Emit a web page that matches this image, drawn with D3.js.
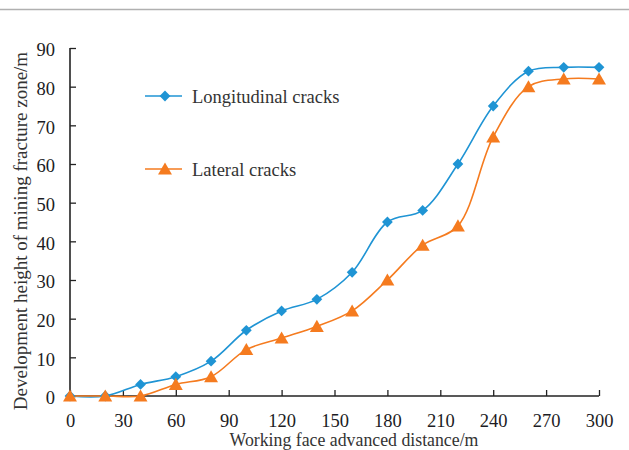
<!DOCTYPE html>
<html><head><meta charset="utf-8">
<script src="https://cdn.jsdelivr.net/npm/d3@7"></script>
<style>body{margin:0;background:#fff;} svg{display:block;}</style>
</head><body>
<svg id="c" width="629" height="450"></svg>
<script>
const distances = [0,20,40,60,80,100,120,140,160,180,200,220,240,260,280,300];
const longitudinal = [0,0,3,5,9,17,22,25,32,45,48,60,75,84,85,85];
const lateral = [0,0,0,3,5,12,15,18,22,30,39,44,67,80,82,82];
const xTicks = [0,30,60,90,120,150,180,210,240,270,300];
const yTicks = [0,10,20,30,40,50,60,70,80,90];
const seriesNames = ["Longitudinal cracks","Lateral cracks"];
const colors = ["#1f94d4","#f57b1f"];

const svg = d3.select("#c");
const font = "'Liberation Serif','Times New Roman',serif";
svg.append("line").attr("x1",0).attr("x2",629).attr("y1",9.5).attr("y2",9.5).attr("stroke","#b0b0b0").attr("stroke-width",1.5);

const x = d3.scaleLinear().domain([0,300]).range([70,599]);
const y = d3.scaleLinear().domain([0,90]).range([396,48]);

const xAxis = svg.append("g").attr("transform","translate(0,396)")
  .call(d3.axisBottom(x).tickValues(xTicks).tickSizeInner(-6).tickSizeOuter(0).tickPadding(18));
const yAxis = svg.append("g").attr("transform","translate(70,0)")
  .call(d3.axisLeft(y).tickValues(yTicks).tickSizeInner(-6).tickSizeOuter(0).tickPadding(15));
[xAxis,yAxis].forEach(g=>{
  g.select(".domain").attr("stroke","#222").attr("stroke-width",1.6);
  g.selectAll(".tick line").attr("stroke","#222").attr("stroke-width",1.3);
  g.selectAll("text").attr("font-family",font).attr("font-size",18.5).attr("fill","#1c1c24");
});
yAxis.selectAll("text").attr("dy","0.42em");
xAxis.select(".domain").attr("d","M70,0H599");
yAxis.select(".domain").attr("d","M0,396V48");

svg.append("text").attr("x",354).attr("y",446).attr("text-anchor","middle")
  .attr("font-family",font).attr("font-size",17.8).attr("fill","#333").text("Working face advanced distance/m");
svg.append("text").attr("transform","translate(27,231) rotate(-90)").attr("text-anchor","middle")
  .attr("font-family",font).attr("font-size",19).attr("fill","#333").text("Development height of mining fracture zone/m");

const line = d3.line().x((d,i)=>x(distances[i])).y(d=>y(d)).curve(d3.curveCatmullRom.alpha(0.5));
const data = [longitudinal, lateral];
const diamond = d3.symbol().type(d3.symbolDiamond2).size(74);
const tri = d3.symbol().type(d3.symbolTriangle).size(84);

data.forEach((s,k)=>{
  svg.append("path").attr("d",line(s)).attr("fill","none").attr("stroke",colors[k]).attr("stroke-width",1.6);
});
data.forEach((s,k)=>{
  svg.selectAll(null).data(s).enter().append("path")
    .attr("transform",(d,i)=>`translate(${x(distances[i])},${y(d) + (k===1?1.5:0)})`)
    .attr("d",k===0?diamond:tri).attr("fill",colors[k]);
});

// legend
const legY = [96,169];
seriesNames.forEach((n,k)=>{
  svg.append("line").attr("x1",145).attr("x2",182).attr("y1",legY[k]).attr("y2",legY[k]).attr("stroke",colors[k]).attr("stroke-width",1.6);
  svg.append("path").attr("transform",`translate(165,${legY[k]+(k===1?1.5:0)})`).attr("d",k===0?diamond:tri).attr("fill",colors[k]);
  svg.append("text").attr("x",192).attr("y",legY[k]+7).attr("font-family",font).attr("font-size",18.5).attr("fill","#333").text(n);
});
</script>
</body></html>
